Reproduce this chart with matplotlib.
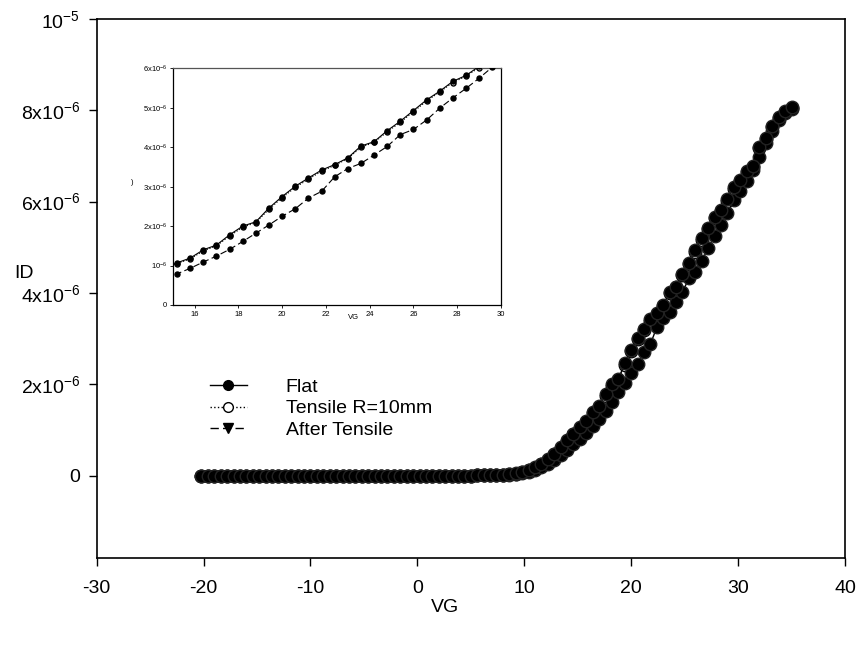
import numpy as np
import matplotlib
matplotlib.use("Agg")
import matplotlib.pyplot as plt
from matplotlib.lines import Line2D

plt.rcParams['font.family'] = ['Liberation Sans', 'DejaVu Sans']
plt.rcParams['mathtext.fontset'] = 'custom'
plt.rcParams['mathtext.rm'] = 'Liberation Sans'
plt.rcParams['mathtext.it'] = 'Liberation Sans:italic'
plt.rcParams['mathtext.bf'] = 'Liberation Sans:bold'

# ---------------- data ----------------
vg = np.round(np.arange(-20.2, 35.01, 0.6), 1)   # gate voltage sweep (93 points)

# drain current, units of 1e-6 A ; first 46 points (VG -20.2 .. 6.8) are off-state
id_off = [0.0, 0.0, 0.0, 0.0, 0.0, 0.0, 0.0, 0.0, 0.0, 0.0,
          0.0, 0.0, 0.0, 0.0, 0.0, 0.0, 0.0, 0.0, 0.0, 0.0,
          0.0, 0.0, 0.0, 0.0, 0.0, 0.0, 0.0, 0.0, 0.0, 0.0,
          0.0, 0.0, 0.0, 0.0, 0.0, 0.0, 0.0, 0.0, 0.0, 0.0,
          0.0, 0.0, 0.0, 0.001, 0.001, 0.002]

flat_on = [0.005, 0.012, 0.025, 0.045, 0.075, 0.12, 0.18, 0.26, 0.36, 0.48,
           0.62, 0.77, 0.92, 1.07, 1.19, 1.40, 1.52, 1.78, 2.00, 2.11,
           2.46, 2.75, 3.01, 3.22, 3.42, 3.56, 3.73, 4.03, 4.14, 4.42,
           4.66, 4.93, 5.20, 5.42, 5.67, 5.82, 6.05, 6.31, 6.47, 6.67,
           6.78, 7.20, 7.40, 7.66, 7.86, 7.98, 8.07]

tensile_on = [0.004, 0.011, 0.023, 0.042, 0.071, 0.115, 0.175, 0.25, 0.35, 0.47,
              0.60, 0.75, 0.90, 1.05, 1.17, 1.37, 1.50, 1.75, 1.97, 2.09,
              2.43, 2.72, 2.98, 3.19, 3.39, 3.54, 3.71, 4.00, 4.12, 4.39,
              4.63, 4.90, 5.17, 5.40, 5.64, 5.80, 6.02, 6.28, 6.45, 6.64,
              6.76, 7.17, 7.38, 7.64, 7.84, 7.96, 8.05]

after_on = [0.003, 0.007, 0.015, 0.028, 0.048, 0.078, 0.12, 0.18, 0.26, 0.35,
            0.46, 0.57, 0.68, 0.79, 0.93, 1.09, 1.24, 1.41, 1.61, 1.82,
            2.03, 2.25, 2.44, 2.71, 2.88, 3.25, 3.46, 3.59, 3.80, 4.02,
            4.32, 4.45, 4.69, 4.99, 5.25, 5.49, 5.75, 6.03, 6.24, 6.45,
            6.70, 6.98, 7.28, 7.55, 7.78, 7.95, 8.03]

flat = np.array(id_off + flat_on) * 1e-6
tensile = np.array(id_off + tensile_on) * 1e-6
after = np.array(id_off + after_on) * 1e-6

series_labels = ['Flat', 'Tensile R=10mm', 'After Tensile']

main_xticks = [-30, -20, -10, 0, 10, 20, 30, 40]
main_yticks = [0, 2e-6, 4e-6, 6e-6, 8e-6, 1e-5]
main_ytick_labels = ['0', r'$2\mathrm{x}10^{-6}$', r'$4\mathrm{x}10^{-6}$',
                     r'$6\mathrm{x}10^{-6}$', r'$8\mathrm{x}10^{-6}$', r'$10^{-5}$']

in_xticks = [16, 18, 20, 22, 24, 26, 28, 30]
in_yticks = [0, 1e-6, 2e-6, 3e-6, 4e-6, 5e-6, 6e-6]
in_ytick_labels = ['0', r'$10^{-6}$', r'$2\mathrm{x}10^{-6}$', r'$3\mathrm{x}10^{-6}$',
                   r'$4\mathrm{x}10^{-6}$', r'$5\mathrm{x}10^{-6}$', r'$6\mathrm{x}10^{-6}$']

# ---------------- figure ----------------
fig = plt.figure(figsize=(8.61, 6.47), dpi=100)
ax = fig.add_axes([0.1123, 0.138, 0.8691, 0.8326])

dash = (0, (6, 3))
ax.plot(vg, tensile, linestyle=':', color='black', lw=1.0, marker='o', ms=9,
        mfc='white', mec='black', zorder=2)
ax.plot(vg, after, linestyle=dash, color='black', lw=1.0, marker='o', ms=9,
        mfc='black', mec='#222222', zorder=3)
ax.plot(vg, flat, linestyle='-', color='black', lw=1.0, marker='o', ms=9,
        mfc='black', mec='#222222', zorder=4)

ax.set_xlim(-30, 40)
ax.set_ylim(-1.8e-6, 1e-5)
ax.set_xticks(main_xticks)
ax.set_xticklabels([str(t) for t in main_xticks])
ax.set_yticks(main_yticks)
ax.set_yticklabels(main_ytick_labels)
ax.tick_params(direction='out', length=6, width=1.0, labelsize=14, pad=6,
               top=False, right=False)
ax.tick_params(axis='x', pad=10)
for s in ax.spines.values():
    s.set_linewidth(1.2)

ax.set_xlabel('VG', fontsize=14, va='center')
ax.xaxis.set_label_coords(0.465, -0.0915)
ax.set_ylabel('ID', fontsize=14, rotation=0, va='center', ha='center')
ax.yaxis.set_label_coords(-0.0965, 0.5275)

handles = [
    Line2D([], [], color='black', lw=1.0, linestyle='-', marker='o', ms=7,
           mfc='black', mec='black'),
    Line2D([], [], color='black', lw=1.0, linestyle=':', marker='o', ms=7,
           mfc='white', mec='black'),
    Line2D([], [], color='black', lw=1.0, linestyle=dash, marker='v', ms=7,
           mfc='black', mec='black'),
]
ax.legend(handles, series_labels, loc='upper left', bbox_to_anchor=(0.151, 0.333),
          frameon=False, fontsize=14, handlelength=1.9, handletextpad=2.0,
          labelspacing=0.2, borderpad=0, borderaxespad=0)

# ---------------- inset ----------------
axi = fig.add_axes([0.2006, 0.5286, 0.3813, 0.3658])
axi.plot(vg, tensile, linestyle=':', color='black', lw=0.8, marker='o', ms=3.6,
         mfc='white', mec='black', zorder=2)
axi.plot(vg, after, linestyle=dash, color='black', lw=0.8, marker='o', ms=3.6,
         mfc='black', mec='black', zorder=3)
axi.plot(vg, flat, linestyle='-', color='black', lw=0.8, marker='o', ms=3.6,
         mfc='black', mec='black', zorder=4)
axi.set_xlim(15, 30)
axi.set_ylim(0, 6e-6)
axi.set_xticks(in_xticks)
axi.set_xticklabels([str(t) for t in in_xticks])
axi.set_yticks(in_yticks)
axi.set_yticklabels(in_ytick_labels)
axi.tick_params(direction='out', length=2, width=0.6, labelsize=5.5, pad=2,
                top=False, right=False)
for s in axi.spines.values():
    s.set_linewidth(0.9)
axi.spines['top'].set_color('#555555')
axi.set_xlabel('VG', fontsize=5.5)
axi.xaxis.set_label_coords(0.55, -0.04)
fig.text(132 / 861, 1 - 182 / 647, ')', fontsize=5.5, ha='center', va='center')

fig.savefig('out.png', dpi=100)
